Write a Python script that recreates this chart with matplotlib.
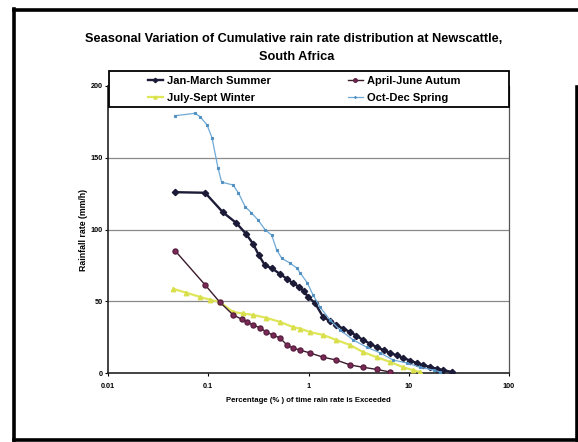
import matplotlib
matplotlib.use("Agg")
import matplotlib.pyplot as plt
from matplotlib.lines import Line2D
from matplotlib.patches import Rectangle

plt.rcParams['font.family'] = ['Liberation Sans', 'DejaVu Sans']

# cumulative rain rate distribution per season: % of time exceeded vs rate (mm/h)
summer_x = [0.047, 0.093, 0.14, 0.19, 0.238, 0.28, 0.32, 0.368, 0.43, 0.52, 0.61, 0.70,
            0.81, 0.90, 0.99, 1.16, 1.4, 1.65, 1.9, 2.2, 2.6, 3.0, 3.5, 4.1, 4.8, 5.6,
            6.5, 7.6, 8.8, 10.3, 12, 14, 16.3, 19, 22, 27]
summer_y = [126, 125.6, 112, 104.6, 97, 90, 82, 75, 73, 69, 65.6, 62.5,
            60, 57, 53, 48.8, 39, 36, 33.5, 31, 28.6, 26, 23, 20.5, 18, 16,
            14, 12.3, 10.5, 8.7, 7, 5.5, 4.2, 3, 2, 0.7]

autumn_x = [0.047, 0.093, 0.13, 0.177, 0.215, 0.243, 0.28, 0.33, 0.38, 0.44, 0.52,
            0.61, 0.70, 0.82, 1.03, 1.4, 1.9, 2.6, 3.5, 4.8, 6.5]
autumn_y = [85, 61.4, 49.5, 40.5, 37.5, 35.6, 33.5, 31.4, 28.6, 26.5, 24.4,
            19.5, 17.4, 16, 14, 11, 9, 5.6, 4, 2.5, 0.7]

winter_x = [0.045, 0.06, 0.083, 0.105, 0.13, 0.177, 0.22, 0.28, 0.38, 0.52, 0.70,
            0.82, 1.03, 1.4, 1.9, 2.6, 3.5, 4.8, 6.5, 8.8, 11, 13]
winter_y = [58.6, 56, 53, 51, 49.5, 42.5, 41.5, 40.5, 38.4, 35.6, 32,
            31, 28.6, 26.5, 23, 19.5, 14.6, 11, 7.7, 4, 2, 0.7]

spring_x = [0.047, 0.074, 0.083, 0.097, 0.109, 0.125, 0.136, 0.177, 0.2, 0.233, 0.27,
            0.313, 0.368, 0.43, 0.48, 0.54, 0.65, 0.77, 0.82, 0.97, 1.11, 1.3, 1.64,
            2.06, 2.8, 3.8, 5.2, 7, 9.6, 13, 17.7, 20.6]
spring_y = [179.3, 181, 178.6, 173, 164, 143, 133, 131, 125.5, 116, 111.6,
            106.7, 100, 96, 86, 80, 76.7, 73, 70, 63, 54.4, 46, 37,
            30, 23, 18, 14, 9, 7, 4, 2, 0.7]

xticks = [0.01, 0.1, 1, 10, 100]
xtick_labels = ['0.01', '0.1', '1', '10', '100']
yticks = [0, 50, 100, 150, 200]

W, H = 578, 442
fig = plt.figure(figsize=(W / 100, H / 100), dpi=100)
ax = fig.add_axes([108 / W, 1 - 373 / H, 401 / W, 287 / H])

for y in [50, 100, 150]:
    ax.axhline(y, color='#8a8a8a', lw=0.9, zorder=1)

ax.plot(summer_x, summer_y, color='#1b1b38', lw=1.7, marker='D', ms=3.2,
        mfc='#1b1b38', mec='#1b1b38', label='Jan-March Summer', zorder=4)
ax.plot(winter_x, winter_y, color='#dfe65a', lw=1.6, marker='^', ms=3.2,
        mfc='#d8df4a', mec='#d8df4a', label='July-Sept Winter', zorder=3)
ax.plot(autumn_x, autumn_y, color='#3a1a2c', lw=1.0, marker='o', ms=3.6,
        mfc='#7b2a58', mec='#5a1f40', label='April-June Autum', zorder=3)
ax.plot(spring_x, spring_y, color='#6fa9d6', lw=0.9, marker='x', ms=1.8,
        mec='#4f8fc0', label='Oct-Dec Spring', zorder=5)

ax.set_xscale('log')
ax.set_xlim(0.01, 100)
ax.set_ylim(0, 200)
ax.set_xticks(xticks)
ax.set_xticklabels(xtick_labels)
ax.minorticks_off()
ax.set_yticks(yticks)
ax.tick_params(axis='x', labelsize=5.2, length=2.5, width=0.8, pad=4.5, direction='out')
ax.tick_params(axis='y', labelsize=5.2, length=2.2, width=0.8, pad=1.5, direction='out')
for lbl in ax.get_xticklabels() + ax.get_yticklabels():
    lbl.set_fontweight('bold')

for side in ['left', 'bottom']:
    ax.spines[side].set_color('#222222')
    ax.spines[side].set_linewidth(1.2)
ax.spines['right'].set_color('#555555')
ax.spines['right'].set_linewidth(0.9)
ax.spines['top'].set_visible(False)

ax.set_xlabel('Percentage (% ) of time rain rate is Exceeded', fontsize=5.6,
              fontweight='bold', labelpad=5)
ax.set_ylabel('Rainfall rate (mm/h)', fontsize=6.3, fontweight='bold', labelpad=2)

# legend box spans the plot width and sits over the top of the plot area
fig.add_artist(Rectangle((109 / W, 1 - 107 / H), 400 / W, 36 / H,
                         transform=fig.transFigure, facecolor='white',
                         edgecolor='black', lw=1.3, zorder=9))
leg = fig.legend(*ax.get_legend_handles_labels(), loc='center',
                 bbox_to_anchor=(304 / W, 1 - 89.5 / H), ncol=2, frameon=False,
                 prop={'size': 8, 'weight': 'bold'}, borderaxespad=0, borderpad=0,
                 handlelength=1.4, handletextpad=0.35, columnspacing=6.9,
                 labelspacing=0.6, markerscale=0.7)
leg.set_zorder(10)

fig.text(294 / W, 1 - 39 / H,
         'Seasonal Variation of Cumulative rain rate distribution at Newscattle,',
         ha='center', va='center', fontsize=9.2, fontweight='bold')
fig.text(297 / W, 1 - 57 / H, 'South Africa',
         ha='center', va='center', fontsize=9.2, fontweight='bold')

# outer border
fw = 2.6
fig.add_artist(Line2D([14 / W, 14 / W], [1 - 9 / H, 1 - 440 / H],
                      transform=fig.transFigure, color='black', lw=fw))
fig.add_artist(Line2D([14 / W, 1.0], [1 - 9.5 / H, 1 - 9.5 / H],
                      transform=fig.transFigure, color='black', lw=fw))
fig.add_artist(Line2D([14 / W, 1.0], [1 - 440 / H, 1 - 440 / H],
                      transform=fig.transFigure, color='black', lw=fw))
fig.add_artist(Line2D([576.5 / W, 576.5 / W], [1 - 87 / H, 1 - 440 / H],
                      transform=fig.transFigure, color='black', lw=fw))

fig.savefig('out.png', dpi=100)
